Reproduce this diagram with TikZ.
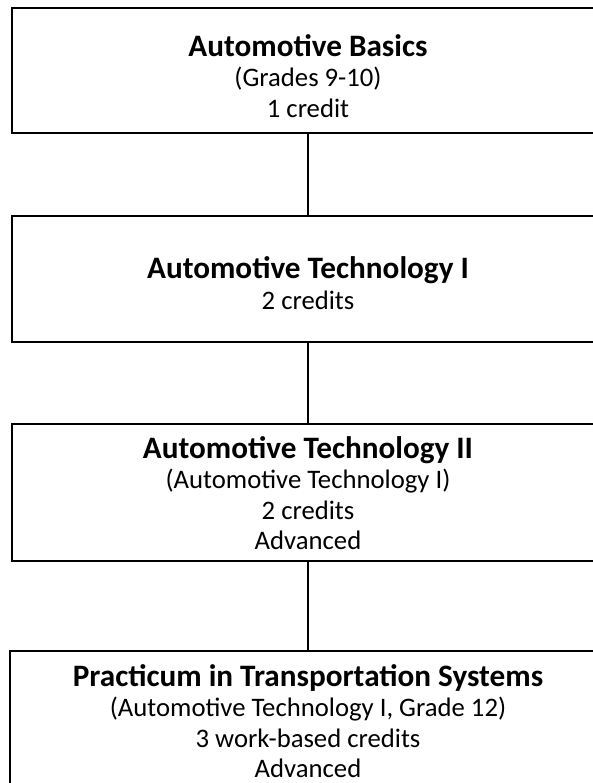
\documentclass[tikz,border=0pt]{standalone}
\usepackage{fontspec}
\setmainfont{Carlito}
\newcommand{\ttlfont}{\fontsize{31.2}{30.5}\selectfont\bfseries}
\begin{document}
\begin{tikzpicture}[x=1pt,y=-1pt,
  box/.style={draw=black,line width=2.6pt,inner sep=0pt,minimum width=592pt},
  label/.style={align=center,inner sep=0pt,font=\fontsize{26.7}{30.5}\selectfont},
  link/.style={draw=black,line width=2.6pt}]
\useasboundingbox (0,0) rectangle (592,783);
\node[box,minimum height=125pt] (b1) at (308,70.5) {};
\node[box,minimum height=126pt] (b2) at (308,279) {};
\node[box,minimum height=137pt] (b3) at (308,492.5) {};
\node[box,minimum width=596pt,minimum height=160pt] (b4) at (308,731) {};
\node[label] (t1) at (308,76) {{\ttlfont Automotive Basics}\\(Grades 9-10)\\1 credit};
\node[label] (t2) at (308,283) {{\ttlfont Automotive Technology I}\\2 credits};
\node[label] (t3) at (308,493) {{\ttlfont Automotive Technology II}\\(Automotive Technology I)\\2 credits\\Advanced};
\node[label] (t4) at (308,721) {{\ttlfont Practicum in Transportation Systems}\\(Automotive Technology I, Grade 12)\\3 work-based credits\\Advanced};
\draw[link] (b1.south) -- (b2.north);
\draw[link] (b2.south) -- (b3.north);
\draw[link] (b3.south) -- (b4.north);
\end{tikzpicture}
\end{document}
